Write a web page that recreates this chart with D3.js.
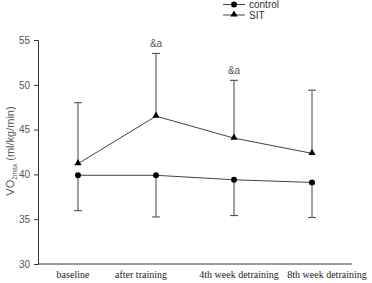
<!DOCTYPE html>
<html>
<head>
<meta charset="utf-8">
<script src="https://cdn.jsdelivr.net/npm/d3@7"></script>
<style>
  body { margin: 0; background: #fff; }
  svg { display: block; }
</style>
</head>
<body>
<div id="chart"></div>
<script>
// VO2max by phase, control vs SIT, mean with one-sided SD bars
const categories  = ['baseline', 'after training', '4th week detraining', '8th week detraining'];
const controlMean = [39.9, 39.9, 39.4, 39.1];
const controlLow  = [35.95, 35.25, 35.4, 35.2];   // error bars point down
const sitMean     = [41.2, 46.5, 44.05, 42.35];
const sitHigh     = [48.0, 53.5, 50.5, 49.4];     // error bars point up
const sitMarks    = ['', '&a', '&a', ''];
const yTicks      = [30, 35, 40, 45, 50, 55];

const W = 372, H = 283;
const svg = d3.select('#chart').append('svg')
  .attr('width', W).attr('height', H);

const axisColor = '#333';
const lineColor = '#444';

const x = d3.scalePoint().domain(categories).range([78, 312]);
const y = d3.scaleLinear().domain([30, 55]).range([264, 40]);

// category labels in the original sit off the data points, spread wider
const xLabel = d3.scaleOrdinal().domain(categories).range([73, 141, 239, 327]);

// ── Axes ──────────────────────────────────────────────────────────────────
const yAxis = svg.append('g')
  .attr('transform', 'translate(38,0)')
  .call(d3.axisLeft(y).tickValues(yTicks).tickSize(4).tickPadding(4));
yAxis.select('.domain').attr('stroke', axisColor);
yAxis.selectAll('.tick line').attr('stroke', axisColor);
yAxis.selectAll('.tick text')
  .attr('fill', '#555')
  .style('font-family', 'Liberation Sans, Arial, sans-serif')
  .style('font-size', '10px');

svg.append('line')
  .attr('x1', 38).attr('x2', 352)
  .attr('y1', y(30)).attr('y2', y(30))
  .attr('stroke', axisColor);

svg.append('g').selectAll('text')
  .data(categories)
  .join('text')
  .attr('x', d => xLabel(d))
  .attr('y', 278)
  .attr('text-anchor', 'middle')
  .attr('fill', '#222')
  .style('font-family', 'Liberation Serif, Times New Roman, serif')
  .style('font-size', '10px')
  .text(d => d);

// Y label with subscript
const yLab = svg.append('text')
  .attr('transform', 'translate(14,151) rotate(-90)')
  .attr('text-anchor', 'middle')
  .attr('fill', '#555')
  .style('font-family', 'Liberation Sans, Arial, sans-serif')
  .style('font-size', '11px');
yLab.append('tspan').text('VO');
yLab.append('tspan').attr('dy', 3).style('font-size', '6.5px').text('2max');
yLab.append('tspan').attr('dy', -3).text(' (ml/kg/min)');

// ── Error bars ────────────────────────────────────────────────────────────
const bars = svg.append('g').attr('stroke', lineColor).attr('stroke-width', 1);
const capW = 4;

categories.forEach((c, i) => {
  const cx = x(c);
  bars.append('line').attr('x1', cx).attr('x2', cx)
    .attr('y1', y(controlMean[i])).attr('y2', y(controlLow[i]));
  bars.append('line').attr('x1', cx - capW).attr('x2', cx + capW)
    .attr('y1', y(controlLow[i])).attr('y2', y(controlLow[i]));
  bars.append('line').attr('x1', cx).attr('x2', cx)
    .attr('y1', y(sitMean[i])).attr('y2', y(sitHigh[i]));
  bars.append('line').attr('x1', cx - capW).attr('x2', cx + capW)
    .attr('y1', y(sitHigh[i])).attr('y2', y(sitHigh[i]));
});

svg.append('g').selectAll('text')
  .data(categories.filter((c, i) => sitMarks[i]))
  .join('text')
  .attr('x', d => x(d))
  .attr('y', d => y(sitHigh[categories.indexOf(d)]) - 6)
  .attr('text-anchor', 'middle')
  .attr('fill', '#555')
  .style('font-family', 'Liberation Sans, Arial, sans-serif')
  .style('font-size', '10px')
  .text(d => sitMarks[categories.indexOf(d)]);

// ── Lines and markers ─────────────────────────────────────────────────────
const line = d3.line().x((d, i) => x(categories[i])).y(d => y(d));

svg.append('path').datum(controlMean)
  .attr('d', line).attr('fill', 'none')
  .attr('stroke', lineColor).attr('stroke-width', 1);
svg.append('path').datum(sitMean)
  .attr('d', line).attr('fill', 'none')
  .attr('stroke', lineColor).attr('stroke-width', 1);

const tri = d3.symbol().type(d3.symbolTriangle).size(22);

svg.append('g').selectAll('circle')
  .data(controlMean)
  .join('circle')
  .attr('cx', (d, i) => x(categories[i]))
  .attr('cy', d => y(d))
  .attr('r', 3)
  .attr('fill', '#000');

svg.append('g').selectAll('path')
  .data(sitMean)
  .join('path')
  .attr('d', tri)
  .attr('transform', (d, i) => `translate(${x(categories[i])},${y(d) - 0.5})`)
  .attr('fill', '#000');

// ── Legend ────────────────────────────────────────────────────────────────
const legend = svg.append('g').attr('transform', 'translate(223,0)');
[['control', 4.5, 'circle'], ['SIT', 15, 'triangle']].forEach(([name, ly, shape]) => {
  legend.append('line').attr('x1', 0).attr('x2', 22)
    .attr('y1', ly).attr('y2', ly).attr('stroke', lineColor);
  if (shape === 'circle') {
    legend.append('circle').attr('cx', 11).attr('cy', ly).attr('r', 3).attr('fill', '#000');
  } else {
    legend.append('path').attr('d', tri).attr('transform', `translate(11,${ly - 0.5})`).attr('fill', '#000');
  }
  legend.append('text')
    .attr('x', 26).attr('y', ly)
    .attr('dy', '0.35em')
    .attr('fill', '#333')
    .style('font-family', 'Liberation Sans, Arial, sans-serif')
    .style('font-size', '10px')
    .text(name);
});
</script>
</body>
</html>
